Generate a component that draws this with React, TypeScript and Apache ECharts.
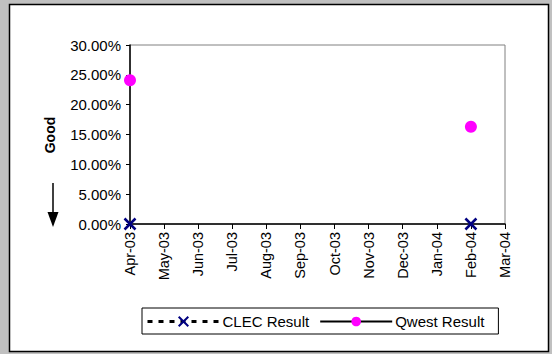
import React, { useEffect, useRef } from "react";
import * as echarts from "echarts";

const months = ["Apr-03", "May-03", "Jun-03", "Jul-03", "Aug-03", "Sep-03", "Oct-03", "Nov-03", "Dec-03", "Jan-04", "Feb-04", "Mar-04"];
const clecResult: (number | null)[] = [0, null, null, null, null, null, null, null, null, null, 0, null];
const qwestResult: (number | null)[] = [24.1, null, null, null, null, null, null, null, null, null, 16.3, null];
const yTicks = { min: 0, max: 30, interval: 5 };

const FONT = "'Liberation Sans', Arial, sans-serif";

export default function App() {
  const ref = useRef<HTMLDivElement>(null);
  useEffect(() => {
    const chart = echarts.init(ref.current!, null, { renderer: "svg" });
    chart.setOption({
      animation: false,
      backgroundColor: "#c0c0c0",
      textStyle: { fontFamily: FONT },
      grid: {
        left: 130, right: 47, top: 45, bottom: 130,
        show: true, borderColor: "#808080", borderWidth: 1, backgroundColor: "transparent",
      },
      graphic: [
        { type: "rect", shape: { x: 9.5, y: 4.5, width: 539, height: 347 }, style: { fill: "#fff", stroke: "#000", lineWidth: 1.5 }, z: -10 },
        { type: "text", x: 50, y: 135, rotation: Math.PI / 2, style: { text: "Good", fill: "#000", font: `bold 14px ${FONT}`, align: "center", verticalAlign: "middle" } },
        { type: "line", shape: { x1: 53, y1: 183, x2: 53, y2: 214 }, style: { stroke: "#000", lineWidth: 1.5 } },
        { type: "polygon", shape: { points: [[47.5, 212], [58.5, 212], [53, 227]] }, style: { fill: "#000" } },
      ],
      xAxis: {
        type: "category",
        data: months,
        boundaryGap: false,
        axisLine: { lineStyle: { color: "#000", width: 1.5 } },
        axisTick: { show: true, length: 5, alignWithLabel: true, lineStyle: { color: "#000" } },
        axisLabel: { rotate: 90, color: "#000", fontSize: 14.5, fontFamily: FONT, margin: 8, interval: 0 },
        splitLine: { show: false },
      },
      yAxis: {
        type: "value",
        min: yTicks.min, max: yTicks.max, interval: yTicks.interval,
        axisLine: { show: true, lineStyle: { color: "#000", width: 1.5 } },
        axisTick: { show: true, length: 4, lineStyle: { color: "#000" } },
        axisLabel: { color: "#000", fontSize: 15, fontFamily: FONT, margin: 9, formatter: (v: number) => v.toFixed(2) + "%" },
        splitLine: { show: false },
      },
      legend: {
        left: 142, top: 308,
        orient: "horizontal",
        borderColor: "#000", borderWidth: 1,
        padding: [6, 14, 5, 4],
        itemGap: 10, itemWidth: 72, itemHeight: 12,
        textStyle: { color: "#000", fontSize: 15, fontFamily: FONT, padding: [0, 0, 0, -2] },
        data: [
          { name: "CLEC Result", lineStyle: { color: "#000", type: [5, 6], width: 3 } },
          { name: "Qwest Result", lineStyle: { color: "#000", type: "solid", width: 2 } },
        ],
      },
      series: [
        {
          name: "CLEC Result", type: "line", data: clecResult, connectNulls: false,
          symbol: "path://M0,0L10,10M10,0L0,10", symbolSize: 11,
          itemStyle: { color: "#000080", borderColor: "#000080", borderWidth: 2.5 },
          lineStyle: { color: "#000", type: [5, 6], width: 3 },
          z: 5,
        },
        {
          name: "Qwest Result", type: "line", data: qwestResult, connectNulls: false,
          symbol: "circle", symbolSize: 12,
          itemStyle: { color: "#ff00ff", borderWidth: 0 },
          lineStyle: { color: "#000", width: 2 },
        },
      ],
    });
    return () => chart.dispose();
  }, []);
  return <div ref={ref} style={{ position: "fixed", left: 0, top: 0, width: 552, height: 354 }} />;
}
